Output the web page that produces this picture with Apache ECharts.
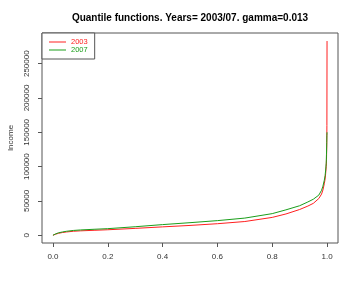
<!DOCTYPE html>
<html>
<head>
<meta charset="utf-8">
<script src="https://cdn.jsdelivr.net/npm/echarts@6/dist/echarts.min.js"></script>
<style>html,body{margin:0;padding:0;background:#fff}#c{width:360px;height:285px}</style>
</head>
<body>
<div id="c"></div>
<script>
const titleText = "Quantile functions. Years= 2003/07. gamma=0.013";
const yName = "Income";
const seriesNames = ["2003", "2007"];
const probs = [0, 0.005, 0.01, 0.02, 0.035, 0.05, 0.075, 0.1, 0.15, 0.2, 0.3, 0.4, 0.5, 0.6, 0.7, 0.8, 0.85, 0.9, 0.93, 0.95, 0.97, 0.98, 0.985, 0.99, 0.993, 0.995, 0.997, 0.998, 0.999, 0.9995, 1];
const income2003 = [0, 800, 1600, 2800, 4000, 4800, 5800, 6400, 7200, 8000, 10000, 12200, 14300, 16800, 20000, 26000, 31000, 37500, 42500, 46500, 53500, 60000, 66000, 75000, 82000, 90000, 100000, 110000, 130000, 160000, 283000];
const income2007 = [0, 1000, 2000, 3500, 4800, 5800, 7000, 7700, 8700, 9600, 12400, 15500, 18300, 21300, 25000, 31500, 37000, 43000, 48500, 52500, 58500, 65500, 71500, 80000, 87000, 95000, 105000, 118000, 135000, 145000, 150000];
const xTicks = [0, 0.2, 0.4, 0.6, 0.8, 1.0];
const yTicks = [0, 50000, 100000, 150000, 200000, 250000];
const colors = ["#ff2020", "#1a9e1a"];

const font = "'Liberation Sans', Arial, Helvetica, sans-serif";
const chart = echarts.init(document.getElementById('c'), null, {renderer: 'canvas'});
const pairs = (xs, ys) => xs.map((x, i) => [x, ys[i]]);
chart.setOption({
  animation: false,
  backgroundColor: '#fff',
  title: {
    text: titleText, left: 185, top: 8, textAlign: 'center',
    textStyle: {fontFamily: font, fontSize: 10, fontWeight: 'bold', color: '#000'}
  },
  legend: {
    orient: 'vertical', left: 42, top: 33,
    padding: [5, 7, 5, 7],
    itemWidth: 17, itemHeight: 1, itemGap: 0,
    icon: 'rect',
    borderColor: '#555', borderWidth: 1,
    backgroundColor: '#fff',
    data: [
      {name: seriesNames[0], icon: 'rect', itemStyle: {color: colors[0]}, textStyle: {color: colors[0]}},
      {name: seriesNames[1], icon: 'rect', itemStyle: {color: colors[1]}, textStyle: {color: colors[1]}}
    ],
    textStyle: {fontFamily: font, fontSize: 7.5, lineHeight: 7.5, padding: [0, 0, 0, 0]}
  },
  grid: {
    left: 42, top: 33, width: 296, height: 210,
    show: true, borderColor: '#555', borderWidth: 1, containLabel: false,
    outerBoundsMode: 'none'
  },
  xAxis: {
    type: 'value', min: -0.04, max: 1.04,
    axisLine: {show: false, onZero: false},
    splitLine: {show: false},
    axisTick: {show: true, inside: false, length: 4, customValues: xTicks, lineStyle: {color: '#555'}},
    axisLabel: {customValues: xTicks, margin: 10, fontFamily: font, fontSize: 8, color: '#333',
      formatter: v => v.toFixed(1)}
  },
  yAxis: {
    type: 'value', min: -11300, max: 294700,
    name: yName, nameLocation: 'middle', nameGap: 27, nameRotate: 90,
    nameTextStyle: {fontFamily: font, fontSize: 8, color: '#333'},
    axisLine: {show: false, onZero: false},
    splitLine: {show: false},
    axisTick: {show: true, inside: false, length: 4, customValues: yTicks, lineStyle: {color: '#555'}},
    axisLabel: {customValues: yTicks, rotate: 90, margin: 11, fontFamily: font, fontSize: 8, color: '#333',
      formatter: v => String(v)}
  },
  series: [
    {name: seriesNames[0], type: 'line', data: pairs(probs, income2003), symbol: 'none', smooth: false,
     lineStyle: {width: 1, color: colors[0]}, itemStyle: {color: colors[0]}},
    {name: seriesNames[1], type: 'line', data: pairs(probs, income2007), symbol: 'none', smooth: false,
     lineStyle: {width: 1, color: colors[1]}, itemStyle: {color: colors[1]}}
  ]
});
</script>
</body>
</html>
